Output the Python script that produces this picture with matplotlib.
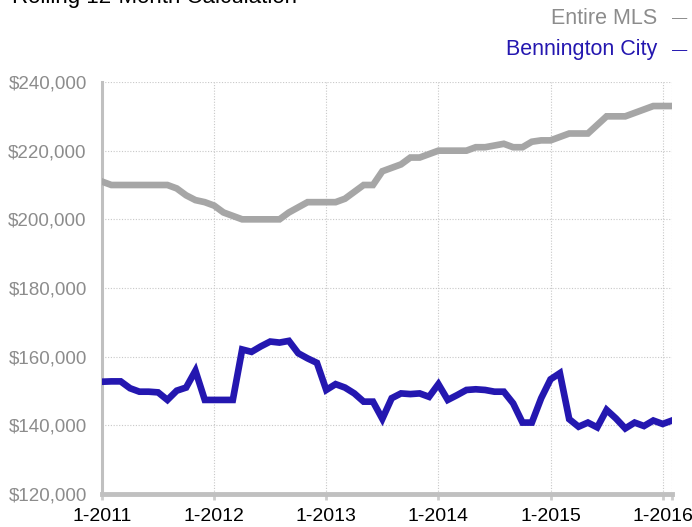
import matplotlib.pyplot as plt

plt.rcParams['font.family'] = ['Liberation Sans', 'DejaVu Sans']

# monthly values, 1-2011 .. 2-2016
year_labels = ['1-2011', '1-2012', '1-2013', '1-2014', '1-2015', '1-2016']
entire_mls = [211000, 210000, 210000, 210000, 210000, 210000, 210000, 210000,
              209000, 207000, 205600, 205000, 204000, 202000, 201000, 200000,
              200000, 200000, 200000, 200000, 202000, 203500, 205000, 205000,
              205000, 205000, 206000, 208000, 210000, 210000, 214000, 215000,
              216000, 218000, 218000, 219000, 220000, 220000, 220000, 220000,
              221000, 221000, 221500, 222000, 221000, 221000, 222600, 223000,
              223000, 224000, 225000, 225000, 225000, 227500, 230000, 230000,
              230000, 231000, 232000, 233000, 233000, 233000]
bennington = [152700, 152800, 152800, 150800, 149800, 149800, 149600, 147400,
              150100, 151000, 155900, 147400, 147400, 147400, 147400, 162100,
              161400, 163000, 164400, 164100, 164600, 161000, 159500, 158200,
              150300, 152000, 151000, 149300, 146900, 146900, 141900, 147900,
              149300, 149100, 149300, 148300, 152000, 147400, 148800, 150300,
              150500, 150300, 149800, 149800, 146400, 140800, 140800, 147900,
              153400, 155200, 141800, 139600, 140800, 139400, 144500, 142000,
              139100, 140800, 139800, 141400, 140400, 141400]

months = list(range(len(entire_mls)))

fig = plt.figure(figsize=(6.92, 5.27), dpi=100)
ax = fig.add_axes([102/692, 1-494/527, (672-102)/692, (494-82)/527])

ax.plot(months, entire_mls, color='#a6a6a6', lw=4.8, solid_joinstyle='miter', zorder=3)
ax.plot(months, bennington, color='#2417b0', lw=4.8, solid_joinstyle='miter', zorder=4)

ax.set_xlim(0, 61)
ax.set_ylim(120000, 240000)
ax.set_xticks(range(0, 61, 12))
ax.set_xticks([61], minor=True)
ax.set_xticklabels(year_labels, fontsize=14, color='black')
ax.set_yticks(range(120000, 240001, 20000))
ax.set_yticklabels(['${:,}'.format(v) for v in range(120000, 240001, 20000)],
                   fontsize=13.5, color='#8c8c8c')

ax.grid(True, color='#c8c8c8', ls=(0, (1, 1.5)), lw=0.8)
ax.axvline(61, color='#c8c8c8', ls=(0, (1, 1.5)), lw=0.8)
ax.tick_params(axis='y', length=0, pad=11)
ax.tick_params(axis='x', which='both', length=4, width=2, color='#cccccc', pad=6)

for s in ['top', 'right']:
    ax.spines[s].set_visible(False)
ax.spines['left'].set_color('#c0c0c0')
ax.spines['left'].set_linewidth(2.2)
ax.spines['bottom'].set_color('#c0c0c0')
ax.spines['bottom'].set_linewidth(3.5)
ax.spines['bottom'].set_zorder(5)

fig.text(12/692, 1-3/527, 'Rolling 12-Month Calculation', fontsize=16, color='black', va='baseline')
fig.text(657/692, 1-18/527, 'Entire MLS', fontsize=15.5, color='#8c8c8c', ha='right', va='center')
fig.text(672/692, 1-18/527, '—', fontsize=11, color='#8c8c8c', ha='left', va='center')
fig.text(657/692, 1-50/527, 'Bennington City', fontsize=15.5, color='#2417b0', ha='right', va='center')
fig.text(672/692, 1-50/527, '—', fontsize=11, color='#2417b0', ha='left', va='center')

fig.savefig('out.png', dpi=100)
